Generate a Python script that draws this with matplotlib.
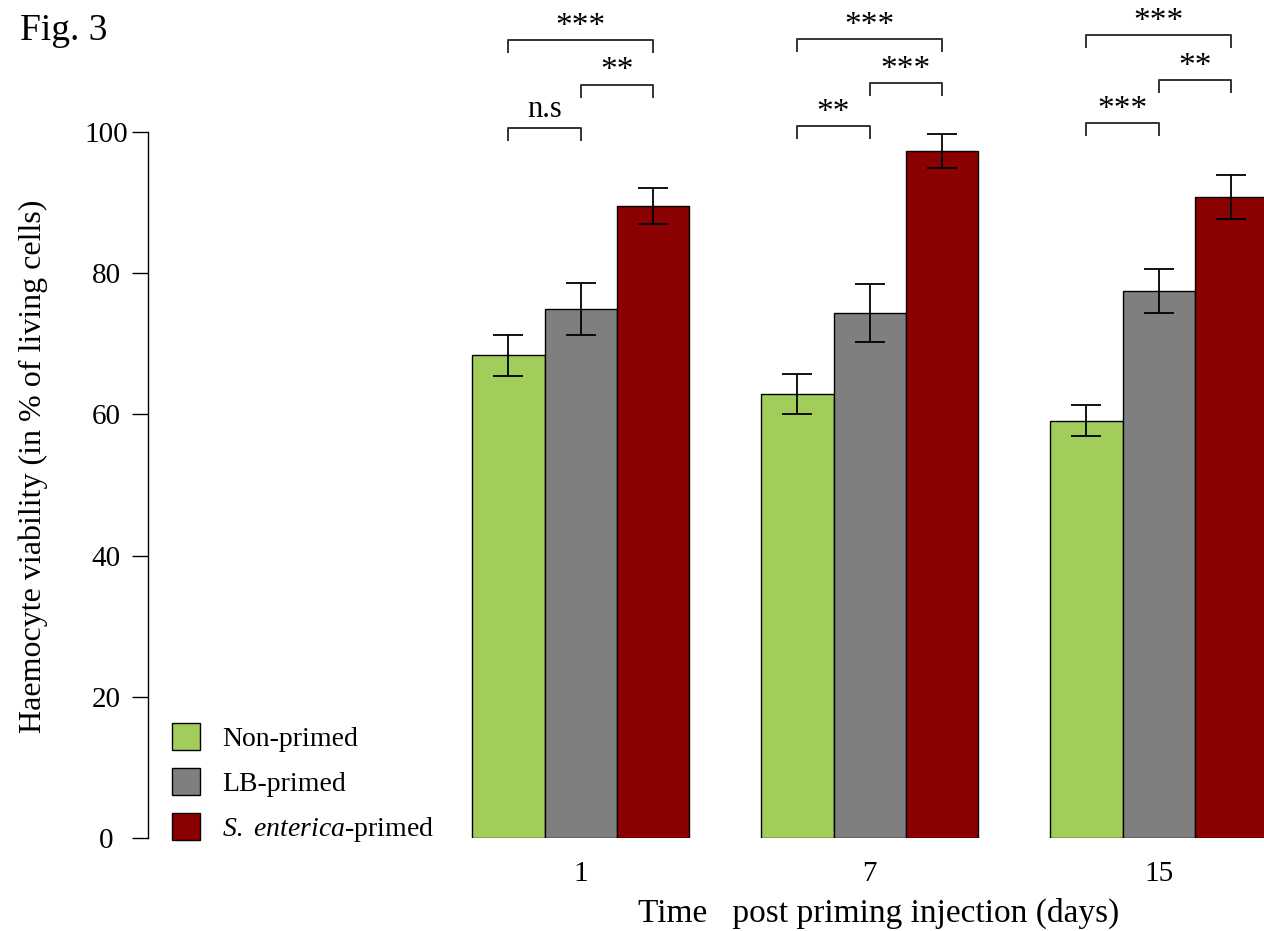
import numpy as np
import matplotlib
matplotlib.use("Agg")
from matplotlib import pyplot as plt

plt.rcParams['font.family'] = ['Liberation Serif', 'DejaVu Serif']
plt.rcParams['mathtext.fontset'] = 'custom'
plt.rcParams['mathtext.rm'] = 'Liberation Serif'
plt.rcParams['mathtext.it'] = 'Liberation Serif:italic'

# Data
days = ["1", "7", "15"]
groups = ["Non-primed", "LB-primed", r"$\it{S.\ enterica}$-primed"]
colors = ["#A2CD5A", "#7F7F7F", "#8B0000"]
non_primed = [68.4, 62.9, 59.1]
non_primed_err = [2.9, 2.8, 2.2]
lb_primed = [74.9, 74.4, 77.5]
lb_primed_err = [3.7, 4.1, 3.1]
sent_primed = [89.5, 97.3, 90.8]
sent_primed_err = [2.5, 2.4, 3.1]

# significance: (non vs LB, LB vs S.ent, non vs S.ent)
sig_labels = [("n.s", "**", "***"), ("**", "***", "***"), ("***", "**", "***")]
sig_low = [100.6, 100.8, 101.3]
sig_mid = [106.7, 106.9, 107.4]
sig_top = [113.0, 113.2, 113.7]

values = [non_primed, lb_primed, sent_primed]
errors = [non_primed_err, lb_primed_err, sent_primed_err]

W, H = 1264, 931
fig = plt.figure(figsize=(W/100, H/100), dpi=100)
ax = fig.add_axes([148/W, 1-838/H, 1-148/W, 838/H])

ngrp = len(days)
base = np.arange(ngrp) * 4 + 1.5   # R barplot style: one bar-width gap

for j in range(3):
    x = base + j
    ax.bar(x, values[j], width=1.0, color=colors[j], edgecolor='black',
           linewidth=1.0, label=groups[j], zorder=2)
    ax.errorbar(x, values[j], yerr=errors[j], fmt='none', ecolor='black',
                elinewidth=1.3, capsize=10.8, capthick=1.3, zorder=3)

# significance brackets
leg = 1.7
for g in range(ngrp):
    c0, c1, c2 = base[g], base[g] + 1, base[g] + 2
    pairs = [(c0, c1, sig_low[g]), (c1, c2, sig_mid[g]), (c0, c2, sig_top[g])]
    for (xa, xb, h), lab in zip(pairs, sig_labels[g]):
        ax.plot([xa, xa, xb, xb], [h - leg, h, h, h - leg], color='#333333',
                lw=1.4, clip_on=False)
        if lab == "n.s":
            ax.text((xa + xb) / 2, h + 0.6, lab, ha='center', va='bottom',
                    fontsize=22)
        else:
            ax.text((xa + xb) / 2, h - 0.25, lab, ha='center', va='bottom',
                    fontsize=24)

ax.set_xlim(-3.488, 11.958)
ax.set_ylim(0, 118.7)
for s in ['top', 'right', 'bottom']:
    ax.spines[s].set_visible(False)
ax.spines['left'].set_bounds(0, 100)
ax.spines['left'].set_linewidth(1.0)
ax.set_yticks([0, 20, 40, 60, 80, 100])
ax.tick_params(axis='y', length=11.5, width=1.0, labelsize=21, pad=18.5)
for lbl in ax.get_yticklabels():
    lbl.set_horizontalalignment('center')
ax.set_xticks(base + 1)
ax.set_xticklabels(days)
ax.tick_params(axis='x', length=0, labelsize=21, pad=16.5)

ax.set_ylabel("Haemocyte viability (in % of living cells)", fontsize=23)
ax.yaxis.set_label_coords(-0.090, 0.443)
ax.set_xlabel("Time   post priming injection (days)", fontsize=24)
ax.xaxis.set_label_coords(0.655, -0.071)

ax.legend(loc='upper left', bbox_to_anchor=(172/W, 1-723/H),
          bbox_transform=fig.transFigure, frameon=False,
          fontsize=20, handlelength=1.0, handleheight=1.12, labelspacing=0.58,
          handletextpad=0.8, borderaxespad=0, borderpad=0)

fig.text(20/W, 1-31/H, "Fig. 3", fontsize=27, va='center', ha='left')

fig.savefig("out.png", dpi=100)
